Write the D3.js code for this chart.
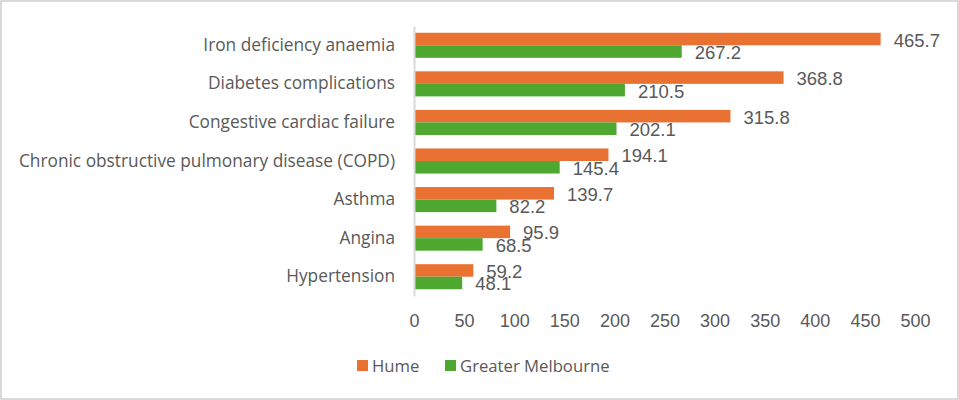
<!DOCTYPE html>
<html>
<head>
<meta charset="utf-8">
<script src="https://cdn.jsdelivr.net/npm/d3@7"></script>
<style>
  body { margin: 0; background: #fff; }
  svg { display: block; }
</style>
</head>
<body>
<div id="content"></div>
<script>
// Data
var categories = ["Iron deficiency anaemia", "Diabetes complications", "Congestive cardiac failure",
  "Chronic obstructive pulmonary disease (COPD)", "Asthma", "Angina", "Hypertension"];
var hume = [465.7, 368.8, 315.8, 194.1, 139.7, 95.9, 59.2];
var melbourne = [267.2, 210.5, 202.1, 145.4, 82.2, 68.5, 48.1];
var seriesNames = ["Hume", "Greater Melbourne"];
var xTicks = [0, 50, 100, 150, 200, 250, 300, 350, 400, 450, 500];

var width = 959, height = 400;
var colors = ["#E97132", "#4EA72E"];
var textColor = "#595959";
var labelFont = "'Open Sans', 'Noto Sans', sans-serif";
var numFont = "'Liberation Sans', Arial, sans-serif";

var svg = d3.select("#content").append("svg")
    .attr("width", width)
    .attr("height", height);

svg.append("rect")
    .attr("x", 1).attr("y", 1)
    .attr("width", width - 2).attr("height", height - 2)
    .attr("fill", "#fff")
    .attr("stroke", "#d9d9d9")
    .attr("stroke-width", 2);

// Scales
var x = d3.scaleLinear().domain([0, 500]).range([414, 915]);
var y = d3.scaleBand().domain(categories).range([26, 296]).paddingInner(0.35).paddingOuter(0.175);
var sub = d3.scaleBand().domain([0, 1]).range([0, y.bandwidth()]);

var rows = categories.map((c, i) => ({ cat: c, vals: [hume[i], melbourne[i]] }));

var groups = svg.selectAll("g.row")
  .data(rows)
  .join("g")
    .attr("class", "row")
    .attr("transform", d => "translate(0," + y(d.cat) + ")");

groups.selectAll("rect")
  .data(d => d.vals)
  .join("rect")
    .attr("x", x(0))
    .attr("y", (d, i) => sub(i))
    .attr("width", d => x(d) - x(0))
    .attr("height", sub.bandwidth())
    .attr("fill", (d, i) => colors[i]);

groups.selectAll("text.val")
  .data(d => d.vals)
  .join("text")
    .attr("class", "val")
    .attr("x", d => x(d) + 13)
    .attr("y", (d, i) => sub(i) + sub.bandwidth() / 2 + 1)
    .attr("dy", "0.35em")
    .attr("fill", textColor)
    .style("font-family", numFont)
    .style("font-size", "18.5px")
    .text(d => d.toFixed(1));

// Y axis
var yAxis = svg.append("g")
    .attr("transform", "translate(" + x(0) + ",0)")
    .call(d3.axisLeft(y).tickSize(0).tickPadding(19));
yAxis.select(".domain").attr("stroke", "#d9d9d9").attr("stroke-width", 2);
yAxis.selectAll("text")
    .attr("fill", textColor)
    .style("font-family", labelFont)
    .style("font-size", "17.3px");

// X axis (labels only)
var xAxis = svg.append("g")
    .attr("transform", "translate(0,314)")
    .call(d3.axisBottom(x).tickValues(xTicks).tickSize(0).tickPadding(0));
xAxis.select(".domain").remove();
xAxis.selectAll("text")
    .attr("fill", textColor)
    .style("font-family", numFont)
    .style("font-size", "18px");

// Legend
var legendX = [357, 445];
var legend = svg.selectAll("g.legend")
  .data(seriesNames)
  .join("g")
    .attr("class", "legend")
    .attr("transform", (d, i) => "translate(" + legendX[i] + ",360)");
legend.append("rect")
    .attr("width", 11).attr("height", 11)
    .attr("fill", (d, i) => colors[i]);
legend.append("text")
    .attr("x", 15)
    .attr("y", 6)
    .attr("dy", "0.35em")
    .attr("fill", textColor)
    .style("font-family", labelFont)
    .style("font-size", "16.7px")
    .text(d => d);
</script>
</body>
</html>
